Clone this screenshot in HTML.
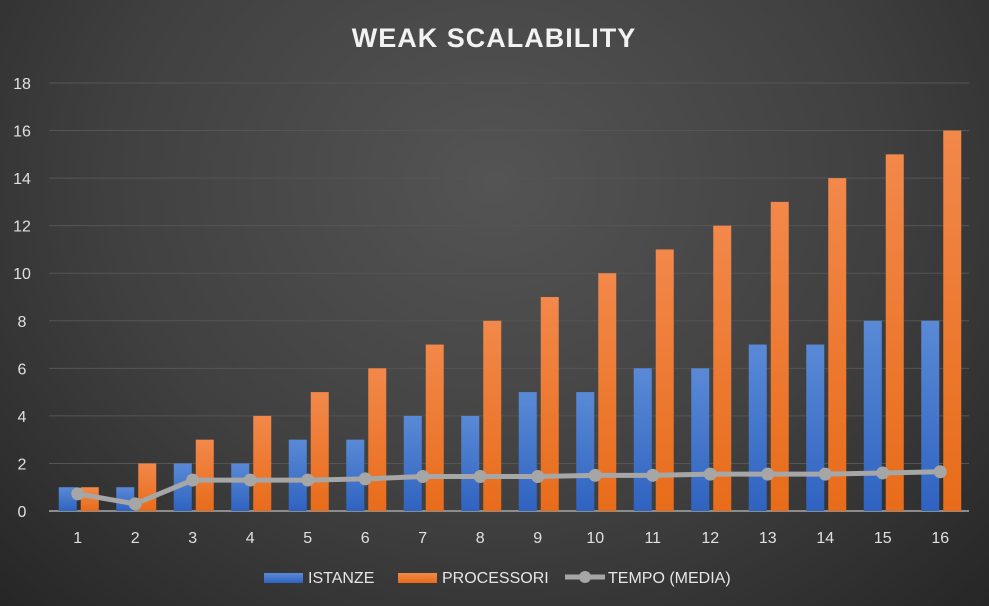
<!DOCTYPE html>
<html><head><meta charset="utf-8"><style>
html,body{margin:0;padding:0;width:989px;height:606px;overflow:hidden;}
body{background:radial-gradient(ellipse at 50% 30%,#545454 0%,#404040 55%,#262626 100%);font-family:"Liberation Sans",sans-serif;}
</style></head><body>
<svg id="chart" width="989" height="606" xmlns="http://www.w3.org/2000/svg">
<defs>
<linearGradient id="gb" x1="0" y1="0" x2="0" y2="1"><stop offset="0" stop-color="#5a8ad6"/><stop offset="1" stop-color="#2f63c0"/></linearGradient>
<linearGradient id="go" x1="0" y1="0" x2="0" y2="1"><stop offset="0" stop-color="#f2884a"/><stop offset="1" stop-color="#e86c1a"/></linearGradient>
</defs>
<text x="494" y="47" text-anchor="middle" font-size="27" font-weight="bold" fill="#f2f2f2" letter-spacing="1">WEAK SCALABILITY</text>
<g id="grid"></g><g id="bars"></g><g id="line"></g><g id="labels"></g>
<g>
<rect x="264" y="573" width="39" height="10" fill="url(#gb)"/>
<text x="308" y="583" font-size="16" fill="#e6e6e6">ISTANZE</text>
<rect x="398" y="573" width="39" height="10" fill="url(#go)"/>
<text x="442" y="583" font-size="16" fill="#e6e6e6">PROCESSORI</text>
<line x1="565" y1="577" x2="605" y2="577" stroke="#a6a6a6" stroke-width="5"/>
<circle cx="585" cy="577" r="6" fill="#a6a6a6"/>
<text x="608" y="583" font-size="16" fill="#e6e6e6">TEMPO (MEDIA)</text>
</g>
</svg>
<script>
const categories=["1","2","3","4","5","6","7","8","9","10","11","12","13","14","15","16"];
const istanze=[1,1,2,2,3,3,4,4,5,5,6,6,7,7,8,8];
const processori=[1,2,3,4,5,6,7,8,9,10,11,12,13,14,15,16];
const tempo=[0.72,0.3,1.3,1.3,1.3,1.35,1.45,1.45,1.45,1.5,1.5,1.55,1.55,1.55,1.6,1.65];
const yTicks=[0,2,4,6,8,10,12,14,16,18];
const NS="http://www.w3.org/2000/svg";
const L=49,R=969,Y0=511,Y18=83;
const step=(R-L)/categories.length;
const x=i=>L+step*(i+0.5);
const y=v=>Y0-(v/18)*(Y0-Y18);
function mk(t,a,p){const e=document.createElementNS(NS,t);for(const k in a)e.setAttribute(k,a[k]);p.appendChild(e);return e;}
const grid=document.getElementById('grid'),bars=document.getElementById('bars'),line=document.getElementById('line'),labels=document.getElementById('labels');
yTicks.forEach(t=>{
 const g=mk('line',{x1:L,x2:R,y1:y(t),y2:y(t),stroke:t===0?'#8c8c8c':'#555555','stroke-width':t===0?2:1},grid);
 
 
 const tx=mk('text',{x:22,y:y(t)+6,'text-anchor':'middle','font-size':16,fill:'#e0e0e0'},labels);
 tx.textContent=t;
 
 
});
categories.forEach((c,i)=>{
 const b=mk('rect',{x:x(i)-19,y:y(istanze[i]),width:18,height:Y0-y(istanze[i]),fill:'url(#gb)'},bars);
 
 
 const o=mk('rect',{x:x(i)+3,y:y(processori[i]),width:18,height:Y0-y(processori[i]),fill:'url(#go)'},bars);
 
 
 const tx=mk('text',{x:x(i),y:543,'text-anchor':'middle','font-size':16,fill:'#e0e0e0'},labels);
 tx.textContent=c;
 
 
});
const pl=mk('polyline',{points:tempo.map((v,i)=>x(i)+','+y(v)).join(' '),fill:'none',stroke:'#a6a6a6','stroke-width':5,'stroke-linejoin':'round'},line);


tempo.forEach((v,i)=>{
 const c=mk('circle',{cx:x(i),cy:y(v),r:6.5,fill:'#a6a6a6'},line);
 
 
});
</script>
</body></html>
